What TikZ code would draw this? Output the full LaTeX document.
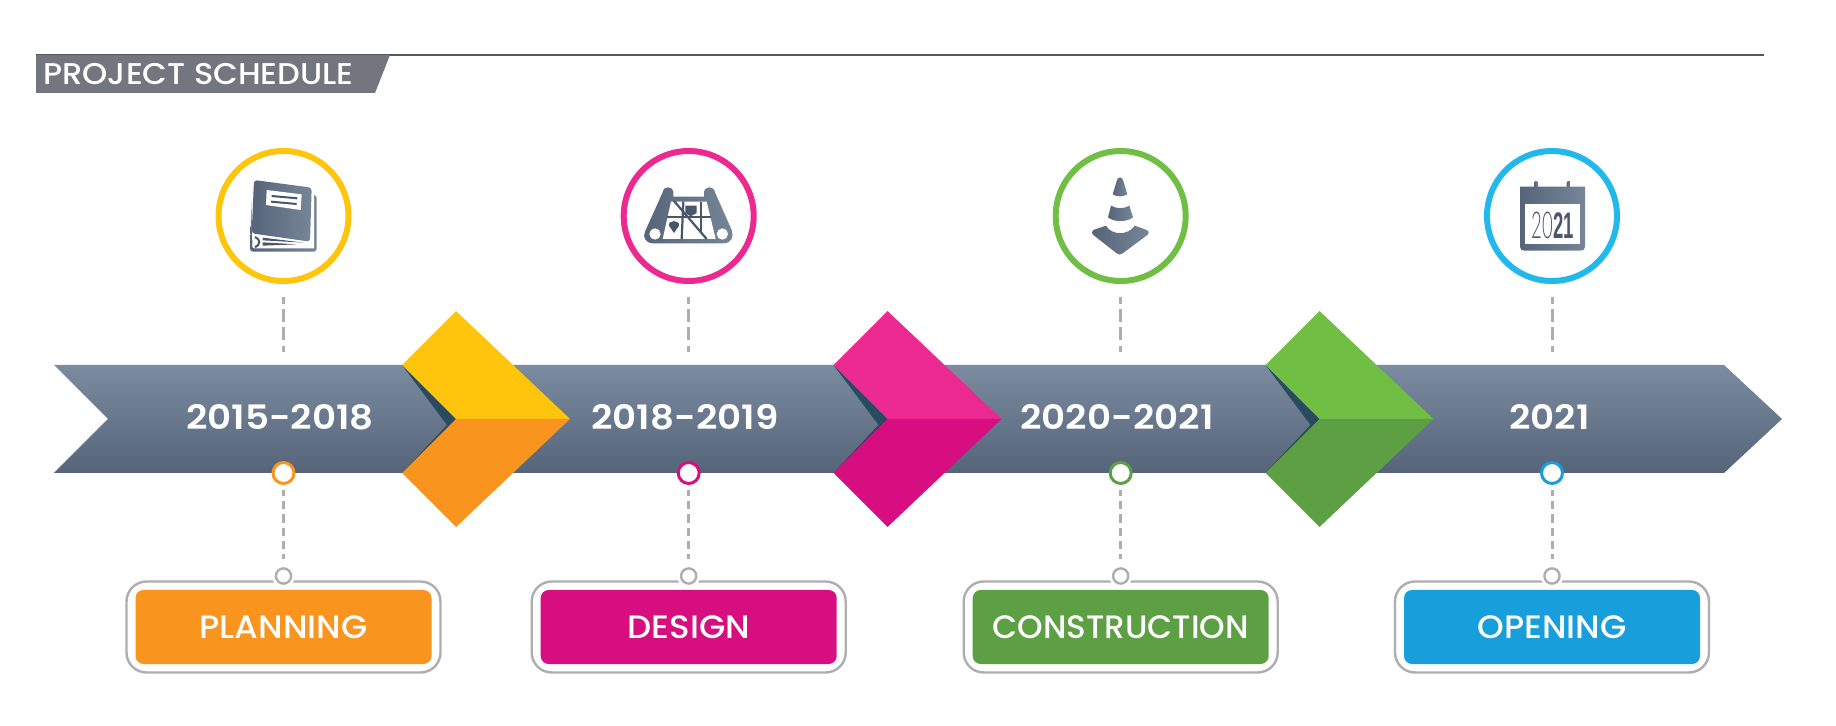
\documentclass[tikz,border=0pt]{standalone}
\usepackage{fontspec}
\usepackage{graphicx}
\setmainfont{Poppins}
\newfontfamily\labfont{Poppins Medium}[FakeStretch=1.05]
\newfontfamily\conlabfont{Poppins Medium}[FakeStretch=1.005]
\newfontfamily\titlefont{Poppins Medium}[FakeStretch=1.07]
\newfontfamily\yearfont{Poppins SemiBold}[FakeStretch=1.11]
\newfontfamily\callight{Lato Light}
\newfontfamily\calbold{Liberation Sans Bold}
\definecolor{cYellow}{HTML}{FFC40C}
\definecolor{cOrange}{HTML}{F9951F}
\definecolor{cPink}{HTML}{EC2891}
\definecolor{cMagenta}{HTML}{D60E7F}
\definecolor{cGreen}{HTML}{70BF44}
\definecolor{cDkGreen}{HTML}{5DA044}
\definecolor{cSky}{HTML}{22B8EC}
\definecolor{cBlue}{HTML}{189EDB}
\definecolor{cShadow}{HTML}{2A4A60}
\definecolor{cGrey}{HTML}{AEAEB0}
\definecolor{cBar}{HTML}{73757F}
\definecolor{cRule}{HTML}{55585F}
\definecolor{cIconL}{HTML}{566479}
\definecolor{cIconR}{HTML}{768698}
\definecolor{cIconD}{HTML}{4A566A}
\definecolor{cArrowT}{HTML}{7B8BA0}
\definecolor{cArrowB}{HTML}{556479}
\tikzset{
  x=0.5pt,y=-0.5pt,
  iconshade/.style={left color=cIconL,right color=cIconR},
  iconscope/.style={x=0.16667pt,y=-0.16667pt},
  iconline/.style={draw=cIconD,line width=1pt},
  mapline/.style={draw=cIconD,line width=1.1pt},
  topring/.style={circle,draw=#1,line width=3pt,fill=white,minimum size=65pt,inner sep=0pt},
  dotring/.style={circle,draw=#1,line width=1.5pt,fill=white,minimum size=10.5pt,inner sep=0pt},
  tipring/.style={circle,draw=cGrey,line width=1.2pt,fill=white,minimum size=7.6pt,inner sep=0pt},
  outerbox/.style={rectangle,rounded corners=10pt,draw=cGrey,line width=1.2pt,fill=white,minimum width=157pt,minimum height=45.5pt,inner sep=0pt},
  innerbox/.style={rectangle,rounded corners=4pt,fill=#1,minimum width=148pt,minimum height=37pt,inner sep=0pt,text=white,font=\labfont\fontsize{16.2}{18}\selectfont},
  yearlabel/.style={text=white,inner sep=0pt,font=\yearfont\fontsize{16.8}{18}\selectfont},
  dashtop/.style={draw=cGrey,line width=1.5pt,dash pattern=on 6.5pt off 2.6pt,dash phase=3pt},
  dashlow/.style={draw=cGrey,line width=1.5pt,dash pattern=on 4.15pt off 2.5pt,dash phase=1.15pt},
}
\newcommand{\chevron}[3]{%
  \fill[cShadow] (#1,365) -- (#1+54,419) -- (#1,473) -- (#1+45,425) -- cycle;
  \fill[#2] (#1,365) -- (#1+54,311) -- (#1+168,419) -- (#1+54,419) -- cycle;
  \fill[#3] (#1,473) -- (#1+54,527) -- (#1+168,419) -- (#1+54,419) -- cycle;
}
\newcommand{\milestone}[6]{% id, cx, ring colour, dot colour, box colour, label
  \node[topring=#3] (top#1) at (#2,216) {};
  \coordinate (dashend#1) at (#2,352);
  \draw[dashtop,shorten <=6.5pt] (top#1) -- (dashend#1);
  \node[dotring=#4] (dot#1) at (#2,473) {};
  \node[outerbox] (outer#1) at (#2,627) {};
  \fill[white] (#2,576) circle (11.5);
  \node[tipring] (tip#1) at (#2,576) {};
  \draw[dashlow,shorten <=2.5pt,shorten >=4pt] (dot#1) -- (tip#1);
  \node[innerbox=#5] (inner#1) at (#2,627) {#6};
}
\begin{document}
\begin{tikzpicture}
\path[use as bounding box,fill=white] (0,0) rectangle (1836,726);
% title
\draw[cRule,line width=1pt] (36,55) -- (1764,55);
\fill[cBar] (36,55) -- (390,55) -- (375,93) -- (36,93) -- cycle;
\node[anchor=base west,inner sep=0pt,text=white,font=\titlefont\fontsize{15}{17}\selectfont] (title) at (43,85) {PROJECT SCHEDULE};
% main arrow
\shade[top color=cArrowT,bottom color=cArrowB] (54,365) -- (1724,365) -- (1782,419) -- (1724,473) -- (54,473) -- (108,419) -- cycle;
\chevron{402}{cYellow}{cOrange}
\chevron{833.5}{cPink}{cMagenta}
\chevron{1265.5}{cGreen}{cDkGreen}
\node[yearlabel] (y1) at (280,417) {2015-2018};
\node[yearlabel] (y2) at (685,417) {2018-2019};
\node[yearlabel] (y3) at (1117,417) {2020-2021};
\node[yearlabel] (y4) at (1549.5,417) {2021};
\milestone{1}{283.5}{cYellow}{cOrange}{cOrange}{PLANNING}
\milestone{2}{688.7}{cPink}{cMagenta}{cMagenta}{DESIGN}
\milestone{3}{1120.7}{cGreen}{cDkGreen}{cDkGreen}{{\conlabfont CONSTRUCTION}}
\milestone{4}{1552}{cSky}{cBlue}{cBlue}{OPENING}
% book icon
\begin{scope}[shift={(200,135)},iconscope]
  \shade[iconshade,rounded corners=1.5pt] (150,350) -- (155,180) -- (350,180) -- (350,350) -- cycle;
  \fill[white] (152,130) -- (342,150) -- (342,340) -- (162,340) .. controls (157,340) and (156,335) .. (157,325) -- cycle;
  \shade[iconshade,rounded corners=1.6pt] (162,135) -- (335,158) -- (330,320) -- (155,295) -- cycle;
  \fill[white] (200,165) -- (305,178) -- (302,225) -- (198,210) -- cycle;
  \draw[iconline] (215,183) -- (292,190);
  \draw[iconline] (213,200) -- (290,207);
  \fill[cIconD] (188,308) -- (312,323) -- (188,316) -- cycle;
  \fill[cIconD] (188,322) -- (290,328) -- (188,332) -- cycle;
  \draw[iconline] (165,306) .. controls (182,312) and (182,330) .. (165,337);
\end{scope}
% map icon
\begin{scope}[shift={(600,135)},iconscope]
  \shade[iconshade] (135,290) -- (188,172) .. controls (190,152) and (218,152) .. (220,172) -- (220,185) -- (312,185) -- (312,172) .. controls (314,152) and (342,152) .. (345,172) -- (395,285) .. controls (402,305) and (395,325) .. (370,325) -- (160,325) .. controls (135,325) and (128,305) .. (135,290) -- cycle;
  \fill[white] (213,200) -- (320,200) -- (347,312) -- (188,312) -- cycle;
  \fill[white] (165,297) circle (17);
  \fill[white] (367,297) circle (17);
  \draw[mapline] (222,198) -- (320,312);
  \draw[mapline] (200,245) -- (332,245);
  \draw[mapline] (250,200) -- (245,312);
  \draw[mapline] (304,200) -- (304,290);
  \fill[cIconD] (256,212) -- (290,212) -- (290,234) -- (272,244) -- (256,234) -- cycle;
  \fill[cIconD] (222,294) -- (207,272) .. controls (203,254) and (241,254) .. (237,272) -- cycle;
\end{scope}
% cone icon
\begin{scope}[shift={(1030,135)},iconscope]
  \shade[iconshade] (248,178) -- (261,135) .. controls (263,125) and (277,125) .. (279,135) -- (292,178) .. controls (280,186) and (260,186) .. (248,178) -- cycle;
  \shade[iconshade] (243,212) .. controls (260,222) and (282,222) .. (298,212) -- (309,247) .. controls (290,262) and (252,262) .. (234,247) -- cycle;
  \shade[iconshade] (228,272) .. controls (245,302) and (295,302) .. (314,272) -- (350,285) .. controls (358,290) and (358,296) .. (352,300) -- (278,355) .. controls (272,360) and (266,360) .. (260,355) -- (190,300) .. controls (184,296) and (184,290) .. (190,285) -- cycle;
\end{scope}
% calendar icon
\begin{scope}[shift={(1460,135)},iconscope]
  \shade[iconshade,rounded corners=1pt] (222,160) -- (222,138) -- (234,138) -- (234,160) -- cycle;
  \shade[iconshade,rounded corners=1pt] (320,160) -- (320,138) -- (332,138) -- (332,160) -- cycle;
  \shade[iconshade] (180,155) -- (375,155) -- (375,335) .. controls (375,343) and (370,347) .. (362,347) -- (193,347) .. controls (185,347) and (180,343) .. (180,335) -- cycle;
  \fill[white] (195,207) rectangle (360,328);
  \node[inner sep=0pt,text=cIconD] (calyear) at (278,272) {\scalebox{0.5}[1]{\fontsize{18.5}{20}\selectfont{\callight 20}{\calbold 21}}};
\end{scope}
\end{tikzpicture}
\end{document}
